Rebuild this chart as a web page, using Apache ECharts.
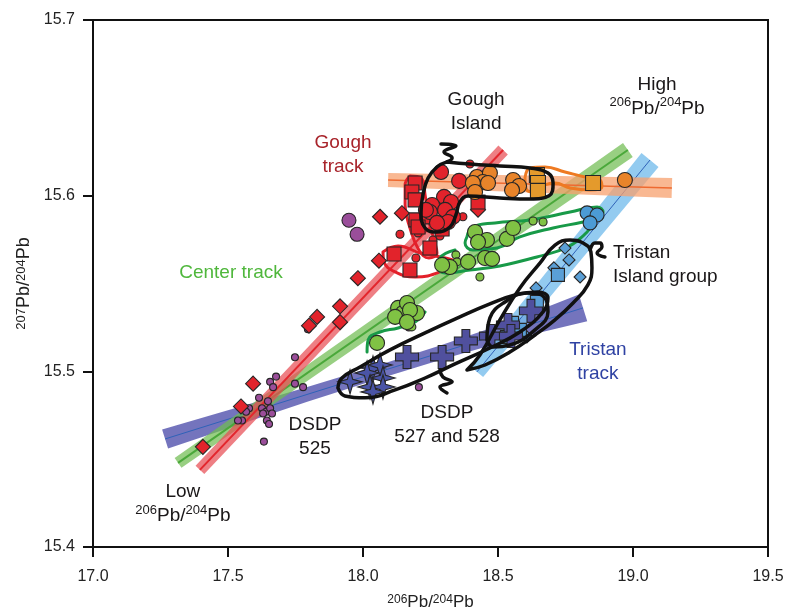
<!DOCTYPE html>
<html><head><meta charset="utf-8">
<script src="https://cdn.jsdelivr.net/npm/echarts@6/dist/echarts.min.js"></script>
<style>html,body{margin:0;padding:0;background:#fff}#c{width:785px;height:614px}</style>
</head><body><div id="c"></div><script>
// ---- axes ----
const xTicks = [17.0, 17.5, 18.0, 18.5, 19.0, 19.5];
const yTicks = [15.4, 15.5, 15.6, 15.7];

// ---- track lines (start, end) ----
const goughTrack   = [[17.396, 15.4439], [18.519, 15.6260]];
const centerTrack  = [[17.315, 15.4479], [18.981, 15.6260]];
const tristanTrack = [[17.267, 15.4615], [18.815, 15.5361]];
const tristanIslTrack = [[18.422, 15.4997], [19.063, 15.6203]];
const orangeTrack  = [[18.093, 15.6089], [19.144, 15.6044]];

// ---- samples ----
const redDiamonds = [[17.407,15.457],[17.548,15.480],[17.593,15.493],[17.800,15.526],[17.830,15.531],[17.915,15.537],[17.915,15.528],[17.981,15.553],[18.059,15.563],[18.063,15.588],[18.144,15.590],[18.426,15.592]];
const purpleLarge = [[17.948,15.586],[17.978,15.578]];
const purpleSmall = [[17.678,15.497],[17.656,15.494],[17.667,15.491],[17.615,15.485],[17.648,15.483],[17.578,15.479],[17.567,15.477],[17.626,15.479],[17.641,15.477],[17.630,15.476],[17.656,15.479],[17.663,15.476],[17.644,15.472],[17.652,15.470],[17.552,15.472],[17.537,15.472],[17.633,15.460],[17.748,15.493],[17.778,15.491],[17.748,15.508],[17.796,15.524],[18.207,15.491],[18.170,15.525]];
const redCirclesLarge = [[18.289,15.6135],[18.356,15.6084],[18.300,15.5993],[18.326,15.5964],[18.256,15.5947],[18.248,15.5907],[18.304,15.5919],[18.333,15.5879],[18.315,15.5850],[18.274,15.5845],[18.233,15.5919]];
const redCirclesSmall = [[18.396,15.618],[18.370,15.588],[18.137,15.578],[18.196,15.5645],[18.259,15.5748],[18.204,15.5788],[18.285,15.577]];
const redSquares = [[18.193,15.6072],[18.181,15.6021],[18.193,15.5976],[18.196,15.5862],[18.237,15.5879],[18.293,15.5810],[18.248,15.5702],[18.115,15.5668],[18.174,15.5577],[18.426,15.5964],[18.204,15.5822]];
const orangeCircles = [[18.422,15.6106],[18.470,15.6129],[18.444,15.6078],[18.463,15.6072],[18.407,15.6072],[18.415,15.6021],[18.556,15.6089],[18.578,15.6055],[18.552,15.6032],[18.970,15.6089]];
const orangeSquares = [[18.644,15.6118],[18.648,15.6072],[18.648,15.6027],[18.852,15.6072]];
const greenLarge = [[18.415,15.5793],[18.459,15.5748],[18.426,15.5736],[18.533,15.5754],[18.556,15.5816],[18.389,15.5623],[18.452,15.5645],[18.478,15.5640],[18.322,15.5594],[18.293,15.5606],[18.130,15.5361],[18.148,15.5332],[18.119,15.5310],[18.200,15.5332],[18.163,15.5389],[18.174,15.5349],[18.163,15.5281],[18.052,15.5162]];
const greenSmall = [[18.630,15.5856],[18.667,15.5850],[18.344,15.5663],[18.348,15.5623],[18.433,15.5537],[18.181,15.5253]];
const blueCircles = [[18.830,15.5902],[18.867,15.5890],[18.841,15.5845]];
const blueDiamonds = [[18.748,15.5702],[18.763,15.5634],[18.804,15.5537],[18.707,15.5589],[18.641,15.5475],[18.607,15.5196]];
const blueSquares = [[18.722,15.5549],[18.644,15.5395],[18.552,15.5276],[18.533,15.5196],[18.581,15.5236]];
const crosses = [[18.163,15.5082],[18.293,15.5082],[18.381,15.5173],[18.474,15.5201],[18.537,15.5264],[18.548,15.5201],[18.622,15.5344]];
const stars = [[18.037,15.5019],[18.063,15.5036],[18.015,15.4991],[18.074,15.4962],[17.952,15.4940],[18.026,15.4911],[18.074,15.4911],[18.037,15.4883]];

// ---- outlines ----
const goughSquiggle = [[18.289,15.6294],[18.344,15.6283],[18.300,15.6249],[18.330,15.6215],[18.311,15.6192]];
const goughOutline = [[18.311,15.6192],[18.396,15.6180],[18.507,15.6169],[18.619,15.6158],[18.685,15.6129],[18.704,15.6072],[18.689,15.6000],[18.619,15.5981],[18.507,15.5987],[18.389,15.5998],[18.359,15.5964],[18.344,15.5890],[18.322,15.5822],[18.274,15.5793],[18.230,15.5816],[18.215,15.5907],[18.222,15.6004],[18.241,15.6101],[18.274,15.6163],[18.311,15.6192]];
const redLoopA = [[18.174,15.6112],[18.215,15.6101],[18.230,15.6004],[18.241,15.5873],[18.263,15.5748],[18.274,15.5674],[18.244,15.5645],[18.207,15.5691],[18.174,15.5816],[18.156,15.5947],[18.156,15.6061],[18.174,15.6112]];
const redLoopB = [[18.074,15.5680],[18.130,15.5714],[18.211,15.5674],[18.304,15.5645],[18.341,15.5623],[18.285,15.5566],[18.193,15.5537],[18.119,15.5566],[18.078,15.5623],[18.074,15.5680]];
const greenLoop = [[18.385,15.5765],[18.407,15.5822],[18.489,15.5845],[18.619,15.5862],[18.767,15.5907],[18.867,15.5936],[18.889,15.5907],[18.867,15.5873],[18.815,15.5850],[18.704,15.5816],[18.581,15.5765],[18.496,15.5702],[18.407,15.5691],[18.378,15.5731],[18.385,15.5765]];
const greenStrand = [[18.341,15.5691],[18.285,15.5645],[18.278,15.5589],[18.304,15.5560],[18.396,15.5577],[18.507,15.5600],[18.644,15.5651],[18.759,15.5708],[18.830,15.5793],[18.848,15.5839]];
const greenTail = [[18.015,15.5110],[18.019,15.5179],[18.063,15.5224],[18.130,15.5247],[18.193,15.5281],[18.230,15.5338]];
const orangeLoop = [[18.600,15.6101],[18.619,15.6158],[18.674,15.6163],[18.748,15.6135],[18.822,15.6106],[18.878,15.6089],[18.885,15.6050],[18.841,15.6032],[18.767,15.6044],[18.711,15.6072],[18.674,15.6061],[18.637,15.6021],[18.607,15.6032],[18.600,15.6101]];
const dsdpEllipse = [[17.907,15.4906],[17.933,15.4860],[18.007,15.4849],[18.119,15.4894],[18.230,15.4962],[18.341,15.5042],[18.470,15.5133],[18.581,15.5224],[18.667,15.5338],[18.685,15.5418],[18.648,15.5452],[18.563,15.5435],[18.470,15.5384],[18.359,15.5310],[18.230,15.5219],[18.100,15.5122],[17.989,15.5025],[17.922,15.4962],[17.907,15.4906]];
const dsdpSmallEllipse = [[18.459,15.5179],[18.470,15.5304],[18.526,15.5395],[18.607,15.5446],[18.674,15.5418],[18.685,15.5338],[18.637,15.5236],[18.544,15.5150],[18.481,15.5139],[18.459,15.5179]];
const dsdpSquiggle = [[18.285,15.5008],[18.296,15.4968],[18.330,15.4940],[18.285,15.4911],[18.311,15.4877]];
const tristanOutline = [[18.385,15.5008],[18.433,15.5093],[18.507,15.5293],[18.581,15.5475],[18.656,15.5617],[18.711,15.5719],[18.767,15.5748],[18.815,15.5731],[18.844,15.5680],[18.848,15.5589],[18.833,15.5492],[18.778,15.5389],[18.711,15.5293],[18.637,15.5207],[18.544,15.5110],[18.452,15.5036],[18.385,15.5008]];
const tristanSquiggle = [[18.841,15.5691],[18.859,15.5731],[18.878,15.5731],[18.885,15.5708],[18.867,15.5674],[18.896,15.5651]];

// ---- text labels ----
const labelTexts = ['Gough\ntrack', 'Gough\nIsland', 'High\n{s|206}Pb/{s|204}Pb', 'Center track', 'Tristan\nIsland group', 'Tristan\ntrack', 'DSDP\n527 and 528', 'DSDP\n525', 'Low\n{s|206}Pb/{s|204}Pb'];
const labelPos = [[17.926,15.6232],[18.419,15.6480],[19.089,15.6565],[17.511,15.5560],[18.926,15.5606],[18.870,15.5053],[18.311,15.4695],[17.822,15.4627],[17.333,15.4245]];
const labelColors = ['#a8232a','#1a1718','#1a1718','#4fb73c','#1a1718','#2f42a3','#1a1718','#1a1718','#1a1718'];
const labelAlign = ['center','center','center','center','left','center','center','center','center'];

const FONT = "'Liberation Sans', Arial, sans-serif";
const CROSS = 'path://M3.3,0 H6.7 V3.3 H10 V6.7 H6.7 V10 H3.3 V6.7 H0 V3.3 H3.3 Z';
const STAR = 'path://M5,0 L6.1,3.9 L10,5 L6.1,6.1 L5,10 L3.9,6.1 L0,5 L3.9,3.9 Z';

function band(name, pts, fill, stroke, lw, widths, z) {
  return {
    type: 'custom', name: name, coordinateSystem: 'cartesian2d', z: z, silent: true,
    encode: { x: [0, 2], y: [1, 3] },
    data: [[pts[0][0], pts[0][1], pts[1][0], pts[1][1]]],
    renderItem: function (params, api) {
      const a = api.coord([api.value(0), api.value(1)]);
      const b = api.coord([api.value(2), api.value(3)]);
      const dx = b[0] - a[0], dy = b[1] - a[1], L = Math.hypot(dx, dy);
      const nx = -dy / L, ny = dx / L;
      const up = [], dn = [];
      widths.forEach(function (w, i) {
        const t = i / (widths.length - 1);
        const cx = a[0] + dx * t, cy = a[1] + dy * t;
        up.push([cx + nx * w, cy + ny * w]);
        dn.push([cx - nx * w, cy - ny * w]);
      });
      return { type: 'group', children: [
        { type: 'polygon', shape: { points: up.concat(dn.reverse()) }, style: { fill: fill } },
        { type: 'line', shape: { x1: a[0], y1: a[1], x2: b[0], y2: b[1] }, style: { stroke: stroke, lineWidth: lw } }
      ]};
    }
  };
}
function outline(data, color, w, z) {
  return { type: 'line', data: data, smooth: 0.45, symbol: 'none', silent: true, z: z || 3,
    lineStyle: { color: color, width: w, cap: 'round', join: 'round' } };
}
function pts(data, symbol, size, color, z) {
  return { type: 'scatter', data: data, symbol: symbol, symbolSize: size, z: z || 5, silent: true,
    itemStyle: { color: color, borderColor: '#262626', borderWidth: 1.1, opacity: 1 } };
}

const labelData = labelTexts.map(function (t, i) {
  return { value: labelPos[i], text: t,
    label: { color: labelColors[i], position: labelAlign[i] === 'left' ? 'right' : 'inside', align: labelAlign[i] } };
});

const chart = echarts.init(document.getElementById('c'), null, { renderer: 'canvas' });
chart.setOption({
  animation: false,
  backgroundColor: '#fff',
  textStyle: { fontFamily: FONT },
  grid: { left: 93, right: 17, top: 20, bottom: 67, containLabel: false, outerBoundsMode: 'none',
    show: true, borderColor: '#111', borderWidth: 2, backgroundColor: 'transparent' },
  xAxis: {
    type: 'value', min: xTicks[0], max: xTicks[xTicks.length - 1], interval: 0.5,
    axisLine: { lineStyle: { color: '#111', width: 2 } },
    axisTick: { length: 10, lineStyle: { color: '#111', width: 2 } },
    splitLine: { show: false },
    axisLabel: { margin: 22, fontSize: 16, color: '#222', fontFamily: FONT, formatter: function (v) { return v.toFixed(1); } },
    name: '{s|206}Pb/{s|204}Pb', nameLocation: 'middle', nameGap: 47,
    nameTextStyle: { fontSize: 17, color: '#222', fontFamily: FONT,
      rich: { s: { fontSize: 12, verticalAlign: 'top', lineHeight: 13, fontFamily: FONT, color: '#222' } } }
  },
  yAxis: {
    type: 'value', min: yTicks[0], max: yTicks[yTicks.length - 1], interval: 0.1,
    axisLine: { lineStyle: { color: '#111', width: 2 } },
    axisTick: { length: 10, lineStyle: { color: '#111', width: 2 } },
    splitLine: { show: false },
    axisLabel: { margin: 18, fontSize: 16, color: '#222', fontFamily: FONT, formatter: function (v) { return v.toFixed(1); } },
    name: '{s|207}Pb/{s|204}Pb', nameLocation: 'middle', nameGap: 56, nameRotate: 90,
    nameTextStyle: { fontSize: 18, color: '#222', fontFamily: FONT,
      rich: { s: { fontSize: 13, verticalAlign: 'top', lineHeight: 14, fontFamily: FONT, color: '#222' } } }
  },
  series: [
    band('tristanTrack', tristanTrack, 'rgba(92,92,178,0.85)', '#2f62b8', 1, [10, 8.5, 7, 6.5, 7, 9, 14], 1),
    band('tristanIsl', tristanIslTrack, 'rgba(120,190,236,0.8)', '#2f62b8', 1, [8, 9.5, 11], 1),
    band('center', centerTrack, 'rgba(112,188,82,0.72)', '#4aa83a', 2, [6, 7, 8.5], 1),
    band('orange', orangeTrack, 'rgba(247,160,110,0.75)', '#ee6a30', 1.5, [7, 8.5, 10], 1),
    band('gough', goughTrack, 'rgba(232,78,84,0.72)', '#e3262d', 2, [6, 6, 6.5], 1),

    outline(redLoopA, '#e3202a', 3),
    outline(redLoopB, '#e3202a', 3),
    outline(greenLoop, '#189a48', 3),
    outline(greenStrand, '#189a48', 3),
    outline(greenTail, '#189a48', 3),
    outline(orangeLoop, '#ee7a22', 3),

    pts(purpleSmall, 'circle', 7, '#9a4e9a'),
    pts(purpleLarge, 'circle', 14, '#9a4e9a'),
    pts(redDiamonds, 'diamond', 15, '#e2232b'),
    pts(greenSmall, 'circle', 8, '#80c244'),
    pts(greenLarge, 'circle', 15, '#80c244'),
    pts(redCirclesSmall, 'circle', 8, '#e2232b'),
    pts(redSquares, 'rect', 14, '#e2232b'),
    pts(redCirclesLarge, 'circle', 15, '#e2232b'),
    pts(orangeCircles, 'circle', 15, '#e8842a'),
    pts(orangeSquares, 'rect', 15, '#e49a2c'),
    pts(blueCircles, 'circle', 14, '#4c9bd5'),
    pts(blueDiamonds, 'diamond', 12, '#5a9fd6'),
    pts(blueSquares, 'rect', 13, '#5a9fd6'),
    pts(stars, STAR, 24, '#4a54a6'),
    pts(crosses, CROSS, 23, '#50509e'),

    outline(goughOutline, '#111', 3.5, 6),
    outline(goughSquiggle, '#111', 3.5, 6),
    outline(dsdpEllipse, '#111', 3.5, 6),
    outline(dsdpSmallEllipse, '#111', 3.5, 6),
    outline(dsdpSquiggle, '#111', 3.5, 6),
    outline(tristanOutline, '#111', 3.5, 6),
    outline(tristanSquiggle, '#111', 3.5, 6),

    { type: 'scatter', data: labelData, symbolSize: 0, itemStyle: { color: '#000', opacity: 1 }, z: 10, silent: true,
      label: { show: true, distance: 0, fontSize: 19, lineHeight: 24, fontFamily: FONT, opacity: 1, textBorderWidth: 0,
        formatter: function (p) { return p.data.text; },
        rich: { s: { fontSize: 13, verticalAlign: 'top', lineHeight: 14, fontFamily: FONT } } } }
  ]
});
</script></body></html>
